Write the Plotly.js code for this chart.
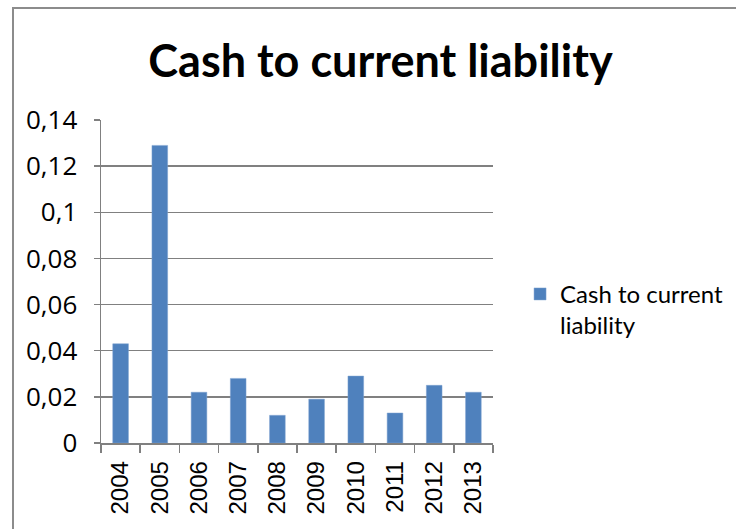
<!DOCTYPE html>
<html>
<head>
<meta charset="utf-8">
<script src="https://cdn.plot.ly/plotly-3.0.1.min.js"></script>
<style>
  html, body { margin: 0; padding: 0; background: #fff; }
  #wrap { position: relative; width: 736px; height: 529px; overflow: hidden; }
  #chart { position: absolute; left: 0; top: 0; width: 736px; height: 529px; }
  #frame { position: absolute; left: 12px; top: 7px; width: 800px; height: 600px;
           border: 2px solid #8c8c8c; pointer-events: none; }
</style>
</head>
<body>
<div id="wrap">
  <div id="chart"></div>
  <div id="frame"></div>
</div>
<script>
const years = ['2004','2005','2006','2007','2008','2009','2010','2011','2012','2013'];
const cashToCurrentLiability = [0.043, 0.129, 0.022, 0.028, 0.012, 0.019, 0.029, 0.013, 0.025, 0.022];
const seriesName = 'Cash to current<br>liability';
const chartTitle = 'Cash to current liability';
const yTickVals = [0, 0.02, 0.04, 0.06, 0.08, 0.1, 0.12, 0.14];
const yTickText = ['0', '0,02', '0,04', '0,06', '0,08', '0,1', '0,12', '0,14'];

const gray = '#808080';

const trace = {
  type: 'bar',
  x: years,
  y: cashToCurrentLiability,
  name: seriesName,
  showlegend: true,
  marker: { color: '#4F81BD', line: { color: '#7fa3d1', width: 0.5 } },
  hoverinfo: 'x+y'
};

const layout = {
  width: 736,
  height: 529,
  margin: { l: 101, r: 243, t: 120, b: 86, pad: 0, autoexpand: false },
  paper_bgcolor: 'rgba(0,0,0,0)',
  plot_bgcolor: 'rgba(0,0,0,0)',
  bargap: 0.6,
  title: {
    text: chartTitle,
    font: { family: 'Lato', size: 45, color: '#000', weight: 700 },
    xref: 'container', x: 0.517, xanchor: 'center',
    yref: 'container', y: 1 - 61 / 529, yanchor: 'middle'
  },
  xaxis: {
    type: 'category',
    showline: true, linecolor: gray, linewidth: 1.5,
    ticks: 'outside', tickson: 'boundaries', ticklen: 8, tickcolor: gray, tickwidth: 1.5,
    tickangle: -90,
    tickfont: { family: 'Liberation Sans', size: 24, color: '#000' },
    ticklabelstandoff: 7,
    showgrid: false, zeroline: false,
    fixedrange: true
  },
  yaxis: {
    range: [0, 0.14],
    tickvals: yTickVals, ticktext: yTickText,
    showline: true, linecolor: gray, linewidth: 1.5,
    ticks: 'outside', ticklen: 6, tickcolor: gray, tickwidth: 1.5,
    tickfont: { family: 'Open Sans', size: 26, color: '#000' },
    ticklabelstandoff: 11,
    showgrid: true, gridcolor: gray, gridwidth: 1.5,
    zeroline: false,
    fixedrange: true
  },
  legend: {
    x: 1.069, xanchor: 'left',
    y: 0.53, yanchor: 'top',
    valign: 'top',
    font: { family: 'Lato', size: 24, color: '#000' },
    bgcolor: 'rgba(0,0,0,0)',
    itemwidth: 30
  },
  showlegend: true
};

Plotly.newPlot('chart', [trace], layout, { displayModeBar: false, staticPlot: true });
</script>
</body>
</html>
